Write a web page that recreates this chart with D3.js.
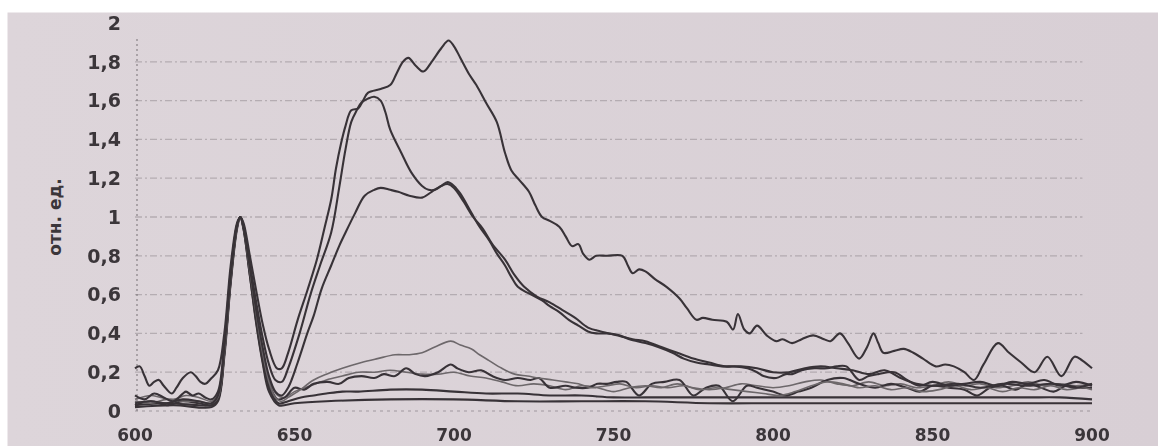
<!DOCTYPE html>
<html>
<head>
<meta charset="utf-8">
<script src="https://cdn.jsdelivr.net/npm/d3@7"></script>
<style>
  body { margin:0; background:#fff; }
  svg { display:block; }
</style>
</head>
<body>
<div id="content"></div>
<script>
//////////////////// data (wavelength nm / rel. units)
const xTicks = [600, 650, 700, 750, 800, 850, 900];
const yTicks = [0, 0.2, 0.4, 0.6, 0.8, 1, 1.2, 1.4, 1.6, 1.8, 2];
const yTickLabels = ["0", "0,2", "0,4", "0,6", "0,8", "1", "1,2", "1,4", "1,6", "1,8", "2"];
const yTitle = "отн. ед.";

// top curve, max ~1.9 at 698 nm
const curveA = [[600,0.22],[601.5,0.23],[603,0.18],[604.5,0.13],[606,0.15],[607.5,0.16],[609,0.13],[611.5,0.09],
  [613,0.12],[615,0.17],[617.5,0.20],[619,0.18],[620.5,0.15],[622,0.14],[624,0.17],[626,0.21],[628,0.4],[630,0.75],
  [632,0.97],[633,1.0],[634,0.97],[636,0.8],[638,0.62],[640,0.45],[642,0.32],[644.5,0.22],[646,0.22],[648,0.3],
  [651,0.47],[654,0.62],[657,0.78],[659.5,0.95],[661.5,1.09],[663,1.25],[664.6,1.38],[666,1.47],[667.8,1.55],
  [670,1.56],[671.5,1.6],[673,1.64],[677,1.66],[680,1.68],[682,1.74],[684,1.80],[685.7,1.82],[688,1.78],[690.4,1.75],
  [693,1.80],[696,1.87],[698.3,1.91],[700,1.88],[702,1.82],[704.6,1.74],[707,1.68],[710,1.59],[713.4,1.49],[716,1.33],
  [718,1.24],[720.5,1.19],[723.5,1.13],[725.5,1.06],[727.6,1.00],[730,0.98],[733,0.95],[735,0.9],[737,0.85],[739,0.86],
  [740.5,0.81],[742.4,0.78],[744.6,0.80],[748,0.80],[752.8,0.80],[754.5,0.75],[756,0.71],[758,0.73],[760,0.72],
  [763,0.68],[766.6,0.64],[770.7,0.58],[773,0.53],[776,0.47],[778,0.48],[781,0.47],[785.5,0.46],[787.5,0.42],
  [789,0.50],[791,0.42],[792.7,0.40],[795,0.44],[798,0.39],[801,0.36],[803,0.37],[806,0.35],[809,0.37],[812.6,0.39],
  [816,0.37],[818,0.36],[821,0.40],[823.5,0.35],[827,0.27],[829.5,0.33],[831.5,0.40],[833,0.35],[834.6,0.30],
  [838,0.31],[841,0.32],[844,0.30],[847,0.27],[851,0.23],[854,0.24],[856.7,0.23],[860,0.2],[863,0.16],[866,0.24],
  [870.5,0.35],[874,0.30],[877.8,0.25],[882,0.20],[886,0.28],[890.4,0.18],[894.5,0.28],[897,0.26],[900,0.22]];

// second curve, max ~1.62 at 675 nm
const curveB = [[600,0.08],[603,0.06],[606,0.09],[609,0.07],[612,0.05],[615,0.09],[616,0.10],[618,0.08],[620,0.09],
  [622,0.07],[624,0.06],[626,0.1],[628,0.35],[630,0.72],[632,0.96],[633,1.0],[634,0.96],[636,0.76],[638,0.56],
  [640,0.38],[642,0.24],[644,0.16],[646,0.15],[648,0.22],[651.6,0.4],[655,0.6],[658,0.75],[661.5,0.92],[664,1.15],
  [666,1.35],[667.8,1.49],[669.5,1.55],[671,1.59],[673,1.61],[675,1.62],[677,1.6],[678.5,1.54],[680,1.45],
  [683.5,1.33],[686.6,1.23],[690,1.16],[692,1.14],[694,1.14],[696,1.16],[698,1.18],[700,1.16],[702,1.12],
  [705.5,1.02],[708,0.95],[711,0.88],[713.5,0.81],[716,0.75],[718,0.69],[720,0.64],[723,0.61],[727.6,0.57],
  [730,0.54],[733,0.51],[736,0.47],[739,0.44],[742,0.41],[744.6,0.40],[748,0.40],[751.8,0.39],[755,0.37],[760,0.35],
  [764,0.33],[768.5,0.30],[772,0.27],[776,0.25],[780,0.24],[784,0.23],[788,0.23],[792,0.22],[795,0.2],[797,0.18],
  [801,0.17],[804,0.19],[806,0.19],[809,0.21],[813,0.22],[817,0.22],[820,0.23],[823,0.23],[827,0.16],[830,0.18],
  [833,0.19],[838,0.2],[842,0.16],[846,0.13],[850,0.15],[855,0.13],[860,0.14],[865,0.15],[870,0.13],[875,0.15],
  [880,0.14],[885,0.16],[890,0.13],[895,0.15],[900,0.13]];

// third curve, flat top ~1.15
const curveC = [[600,0.04],[605,0.05],[610,0.04],[615,0.06],[620,0.05],[624,0.04],[626,0.08],[628,0.33],[630,0.7],
  [632,0.96],[633,1.0],[634,0.95],[636,0.74],[638,0.52],[640,0.33],[642,0.18],[644,0.1],[646,0.08],[648,0.12],
  [651,0.25],[654,0.4],[656,0.49],[658.5,0.63],[661.5,0.75],[664,0.85],[666,0.92],[669,1.02],[672,1.11],[675,1.14],
  [677,1.15],[680,1.14],[682.5,1.13],[686,1.11],[690,1.10],[693,1.13],[696,1.16],[698,1.17],[700,1.15],[703,1.08],
  [706,1.0],[709,0.94],[712,0.86],[716,0.78],[719,0.7],[722,0.64],[726,0.59],[730,0.56],[734,0.52],[738,0.48],
  [742,0.43],[746,0.41],[751,0.39],[756,0.37],[760,0.36],[765,0.33],[770,0.30],[775,0.27],[780,0.25],[785,0.23],
  [790,0.23],[795,0.22],[800,0.2],[805,0.2],[810,0.22],[815,0.23],[820,0.22],[825,0.21],[830,0.19],[835,0.21],
  [840,0.17],[845,0.14],[850,0.13],[858,0.14],[865,0.12],[872,0.14],[880,0.13],[888,0.14],[895,0.12],[900,0.14]];

// pale curve, max ~0.35 at 699 nm
const curveD = [[600,0.05],[605,0.04],[610,0.06],[615,0.05],[620,0.05],[624,0.04],[626,0.07],[628,0.3],[630,0.68],
  [632,0.95],[633,1.0],[634,0.95],[636,0.72],[638,0.5],[640,0.3],[642,0.15],[644,0.07],[646,0.05],[648,0.07],
  [651,0.1],[656,0.16],[660,0.19],[665,0.22],[671,0.25],[676,0.27],[681.5,0.29],[686,0.29],[690,0.30],[694,0.33],
  [699,0.36],[702,0.34],[705.5,0.32],[708,0.29],[711,0.26],[715,0.22],[719,0.19],[723,0.18],[726.6,0.17],[731,0.16],
  [735,0.15],[739,0.14],[743,0.12],[748,0.13],[752,0.14],[757,0.12],[762,0.13],[767,0.12],[772,0.13],[777,0.11],
  [782,0.12],[787,0.11],[792,0.10],[797,0.09],[802,0.08],[807,0.10],[812,0.13],[817,0.15],[822,0.14],[827,0.12],
  [832,0.13],[837,0.11],[842,0.12],[847,0.10],[852,0.11],[857,0.13],[862,0.11],[867,0.12],[872,0.10],[877,0.12],
  [882,0.11],[887,0.13],[892,0.11],[897,0.12],[900,0.11]];

// wiggly curve ~0.2
const curveE = [[600,0.03],[605,0.05],[610,0.03],[615,0.05],[620,0.04],[624,0.03],[626,0.06],[628,0.3],[630,0.68],
  [632,0.95],[633,1.0],[634,0.95],[636,0.72],[638,0.48],[640,0.28],[642,0.14],[644.7,0.06],[647,0.07],[650,0.12],
  [653,0.11],[656,0.14],[660.5,0.15],[664,0.14],[667,0.17],[671,0.18],[675,0.17],[678,0.19],[681.5,0.18],[685,0.22],
  [688,0.19],[691,0.18],[695,0.2],[699,0.24],[701,0.22],[704.6,0.20],[708.5,0.21],[712,0.18],[716,0.16],[720,0.17],
  [724,0.16],[726.6,0.17],[730,0.12],[735,0.13],[738,0.12],[742,0.12],[745,0.14],[748,0.14],[751,0.15],[754,0.15],
  [758,0.08],[762,0.14],[766,0.15],[770.7,0.16],[775,0.08],[779,0.12],[783,0.13],[787.4,0.05],[791.8,0.13],
  [795,0.12],[800,0.1],[804,0.08],[808,0.1],[812,0.12],[817,0.16],[822,0.17],[827,0.14],[832,0.12],[837,0.14],
  [842,0.12],[846,0.10],[850,0.13],[855,0.12],[860,0.11],[864,0.08],[868,0.12],[872,0.13],[876,0.11],[880,0.14],
  [884,0.12],[888,0.1],[892,0.13],[896,0.12],[900,0.12]];

const curveF = [[600,0.06],[605,0.08],[608,0.07],[612,0.06],[616,0.08],[620,0.07],[624,0.05],[626,0.08],[628,0.32],
  [630,0.7],[632,0.96],[633,1.0],[634,0.96],[636,0.74],[638,0.5],[640,0.3],[642,0.16],[644.7,0.08],[647,0.07],
  [650,0.1],[655,0.13],[660,0.16],[665,0.18],[670,0.2],[675,0.2],[680,0.21],[685,0.2],[690,0.19],[695,0.19],
  [700,0.2],[705,0.18],[710,0.17],[715,0.15],[720,0.13],[725,0.14],[730,0.13],[735,0.11],[740,0.13],[745,0.12],
  [750,0.10],[755,0.12],[760,0.13],[765,0.12],[770,0.14],[775,0.12],[780,0.11],[785,0.12],[790,0.14],[795,0.13],
  [800,0.12],[805,0.13],[810,0.15],[815,0.16],[820,0.14],[825,0.13],[830,0.15],[835,0.13],[840,0.14],[845,0.12],
  [850,0.13],[855,0.15],[860,0.13],[865,0.14],[870,0.12],[875,0.13],[880,0.15],[885,0.13],[890,0.14],[895,0.13],
  [900,0.14]];

const curveG = [[600,0.03],[610,0.04],[620,0.03],[624,0.03],[626,0.06],[628,0.3],[630,0.67],[632,0.95],[633,1.0],
  [634,0.94],[636,0.7],[638,0.46],[640,0.26],[642,0.12],[645,0.04],[648,0.05],[652,0.07],[656,0.08],[660,0.09],
  [665,0.1],[670,0.1],[680,0.11],[690,0.11],[700,0.1],[710,0.09],[720,0.09],[730,0.08],[740,0.08],[750,0.07],
  [760,0.07],[770,0.07],[780,0.07],[790,0.07],[800,0.07],[810,0.07],[820,0.07],[830,0.07],[840,0.07],[850,0.07],
  [860,0.07],[870,0.07],[880,0.07],[890,0.07],[900,0.06]];

const curveH = [[600,0.02],[612,0.03],[624,0.02],[626,0.05],[628,0.28],[630,0.66],[632,0.94],[633,1.0],[634,0.94],
  [636,0.7],[638,0.45],[640,0.25],[642,0.1],[645,0.03],[650,0.04],[660,0.05],[680,0.06],[700,0.06],[720,0.05],
  [740,0.05],[760,0.05],[780,0.04],[800,0.04],[820,0.04],[840,0.04],[860,0.04],[880,0.04],[900,0.04]];

const series = [
  { name:"H", values:curveH, pale:false },
  { name:"G", values:curveG, pale:false },
  { name:"F", values:curveF, pale:true  },
  { name:"E", values:curveE, pale:false },
  { name:"D", values:curveD, pale:true  },
  { name:"C", values:curveC, pale:false },
  { name:"B", values:curveB, pale:false },
  { name:"A", values:curveA, pale:false }
];

//////////////////// drawing area
const W = 1158, H = 446;
const paper = { left:7.5, top:12.5 };

const xScale = d3.scaleLinear()
    .domain([600, 900])
    .range([135, 1092]);

const yScale = d3.scaleLinear()
    .domain([0, 2])
    .range([411, 23]);

const svg = d3.select("#content")
    .append("svg")
    .attr("width",  W)
    .attr("height", H);

const defs = svg.append("defs");
defs.append("filter").attr("id", "soft")
    .append("feGaussianBlur").attr("stdDeviation", 0.55);
const grad = defs.append("linearGradient").attr("id", "paperGrad")
    .attr("x1", 0).attr("x2", 1).attr("y1", 0).attr("y2", 0);
grad.append("stop").attr("offset", "0%").attr("stop-color", "#ddd5da");
grad.append("stop").attr("offset", "100%").attr("stop-color", "#d8cfd5");

svg.append("rect")
    .attr("width", W).attr("height", H)
    .attr("fill", "#ffffff");

svg.append("rect")
    .attr("x", paper.left).attr("y", paper.top)
    .attr("width", W - paper.left).attr("height", H - paper.top)
    .attr("fill", "url(#paperGrad)");

// dashed gridlines
const grid = svg.append("g").attr("filter", "url(#soft)");
grid.selectAll(".grid").data(yTicks.filter(d => d > 0 && d < 2))
    .enter().append("line")
        .attr("class", "grid")
        .attr("x1", xScale(600))
        .attr("x2", xScale(897))
        .attr("y1", d => yScale(d))
        .attr("y2", d => yScale(d))
        .attr("stroke", "#8d868b")
        .attr("stroke-width", 1.3)
        .attr("stroke-dasharray", "7,3,2,3")
        .attr("opacity", 0.5);

// axis lines (dotted in the print)
grid.append("line")
    .attr("x1", xScale(600) + 2).attr("x2", xScale(600) + 2)
    .attr("y1", yScale(0)).attr("y2", yScale(2) + 15)
    .attr("stroke", "#6f686d").attr("stroke-width", 1.3)
    .attr("stroke-dasharray", "2,3").attr("opacity", 0.7);
grid.append("line")
    .attr("x1", xScale(600)).attr("x2", xScale(900))
    .attr("y1", yScale(0)).attr("y2", yScale(0))
    .attr("stroke", "#7a7378").attr("stroke-width", 1.2)
    .attr("stroke-dasharray", "3,4").attr("opacity", 0.6);

// y tick labels
svg.append("g").selectAll(".ylab").data(yTicks)
    .enter().append("text")
        .attr("class", "ylab")
        .attr("x", 121)
        .attr("y", d => yScale(d))
        .attr("dy", "0.36em")
        .attr("text-anchor", "end")
        .attr("font-family", "DejaVu Sans")
        .attr("font-weight", "bold")
        .attr("font-size", 19)
        .attr("fill", "#3b363a")
        .text((d, i) => yTickLabels[i]);

// x tick labels, kept just inside the bottom edge
svg.append("g").selectAll(".xlab").data(xTicks)
    .enter().append("text")
        .attr("class", "xlab")
        .attr("x", d => xScale(d))
        .attr("y", 441)
        .attr("text-anchor", "middle")
        .attr("font-family", "DejaVu Sans")
        .attr("font-weight", "bold")
        .attr("font-size", 17)
        .attr("fill", "#3b363a")
        .text(d => d);

// y title
svg.append("text")
    .attr("transform", "translate(61," + yScale(1.0) + ")rotate(-90)")
    .attr("text-anchor", "middle")
    .attr("font-family", "DejaVu Sans")
    .attr("font-weight", "bold")
    .attr("font-size", 17)
    .attr("fill", "#3b363a")
    .text(yTitle);

// spectra
const line = d3.line()
    .x(d => xScale(d[0]))
    .y(d => yScale(d[1]))
    .curve(d3.curveCatmullRom.alpha(0.5));

svg.append("g").attr("filter", "url(#soft)")
    .selectAll(".spec").data(series)
    .enter().append("path")
        .attr("class", "spec")
        .attr("d", s => line(s.values))
        .attr("fill", "none")
        .attr("stroke", s => s.pale ? "#6d676b" : "#383337")
        .attr("stroke-width", s => s.pale ? 1.6 : 2.1)
        .attr("stroke-linejoin", "round");
</script>
</body>
</html>
